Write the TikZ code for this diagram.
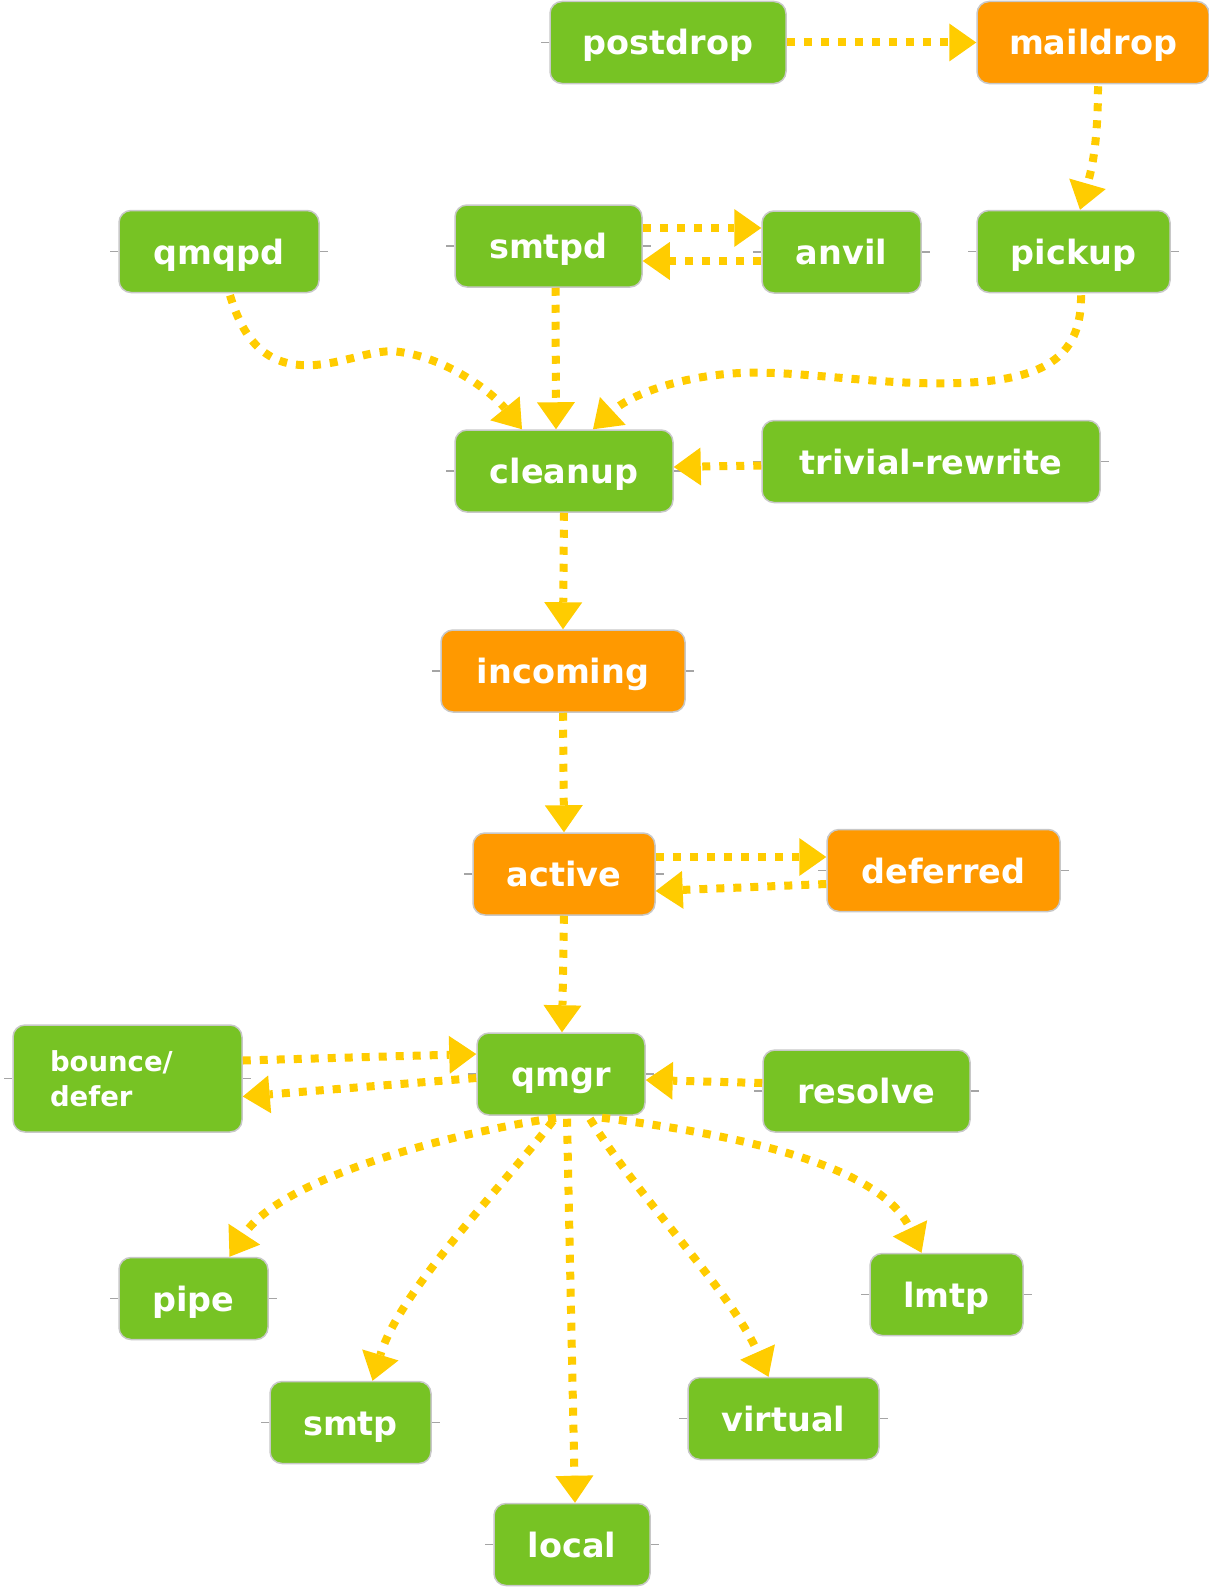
\documentclass[tikz,border=0pt]{standalone}
\usepackage{fontspec}
\setmainfont{DejaVu Sans}
\usetikzlibrary{arrows.meta,calc}
\definecolor{boxgreen}{RGB}{119,195,36}
\definecolor{boxorange}{RGB}{255,153,0}
\definecolor{flowyellow}{RGB}{255,204,0}
\definecolor{tickgray}{RGB}{165,165,165}
\definecolor{edgegray}{RGB}{200,200,200}
\begin{document}
\begin{tikzpicture}[x=1pt,y=-1pt,
  box/.style={rounded corners=12pt, draw=edgegray, line width=1.5pt, text=white,
    inner sep=0pt, minimum height=82pt},
  oneline/.style={font=\bfseries\fontsize{33.5}{40}\selectfont, text height=25pt, text depth=0pt},
  gbox/.style={box, oneline, fill=boxgreen},
  obox/.style={box, oneline, fill=boxorange},
  flow/.style={draw=flowyellow, line width=8pt, dash pattern=on 8pt off 9pt,
    -{Triangle[length=27pt,width=38pt,line width=0pt]}},
  tickline/.style={draw=tickgray, line width=1.2pt}]
\fill[white] (0,0) rectangle (1209,1587);
\useasboundingbox (0,0) rectangle (1209,1587);

% nodes
\node[gbox, minimum width=236pt] (postdrop) at (668,42.5) {postdrop};
\node[obox, minimum width=232pt] (maildrop) at (1093,42.5) {maildrop};
\node[gbox, minimum width=200pt] (qmqpd) at (219,251.5) {qmqpd};
\node[gbox, minimum width=187pt] (smtpd) at (548.5,246) {smtpd};
\node[gbox, minimum width=159pt] (anvil) at (841.5,252) {anvil};
\node[gbox, minimum width=193pt] (pickup) at (1073.5,251.5) {pickup};
\node[gbox, minimum width=218pt] (cleanup) at (564,471) {cleanup};
\node[gbox, minimum width=338pt] (trivial) at (931,461.5) {trivial-rewrite};
\node[obox, minimum width=244pt] (incoming) at (563,671) {incoming};
\node[obox, minimum width=182pt] (active) at (564,874) {active};
\node[obox, minimum width=233pt] (deferred) at (943.5,870.5) {deferred};
\node[box, fill=boxgreen, minimum width=229pt, minimum height=107pt,
  text width=155pt, align=left, font=\bfseries\fontsize{27.5}{35}\selectfont]
  (bounce) at (127.5,1078.5) {bounce/\\defer};
\node[gbox, minimum width=168pt] (qmgr) at (561,1074) {qmgr};
\node[gbox, minimum width=207pt] (resolve) at (866.5,1091) {resolve};
\node[gbox, minimum width=149pt] (pipe) at (193.5,1298.5) {pipe};
\node[gbox, minimum width=153pt] (lmtp) at (946.5,1294.5) {lmtp};
\node[gbox, minimum width=161pt] (smtp) at (350.5,1422.5) {smtp};
\node[gbox, minimum width=191pt] (virtual) at (783.5,1418.5) {virtual};
\node[gbox, minimum width=156pt] (local) at (572,1544.5) {local};

% side ticks
\foreach \n in {postdrop,maildrop,qmqpd,smtpd,anvil,pickup,cleanup,trivial,incoming,active,deferred,bounce,qmgr,resolve,pipe,lmtp,smtp,virtual,local}
  \draw[tickline] (\n.west) -- ++(-8,0) (\n.east) -- ++(8,0);

% connectors
\draw[flow] (postdrop.east) -- (maildrop.west);
\draw[flow] ($(maildrop.south)+(5,2)$) .. controls (1098,150) and (1090,175) .. ($(pickup.north)+(6.5,0)$);
\draw[flow] ($(smtpd.east)+(0,-18)$) -- ($(anvil.west)+(0,-24)$);
\draw[flow] ($(anvil.west)+(0,9)$) -- ($(smtpd.east)+(0,15)$);
\draw[flow] ($(smtpd.south)+(7,0)$) -- ($(cleanup.north)+(-8,0)$);
\draw[flow] ($(qmqpd.south)+(11,2)$) .. controls (245,345) and (270,368) .. (315,365)
  .. controls (350,362) and (375,348) .. (400,352)
  .. controls (445,358) and (490,390) .. ($(cleanup.north)+(-42,0)$);
\draw[flow] ($(pickup.south)+(7.5,2)$) .. controls (1082,360) and (1040,380) .. (960,383)
  .. controls (880,386) and (800,370) .. (740,373)
  .. controls (680,376) and (630,395) .. ($(cleanup.north)+(29,0)$);
\draw[flow] ($(trivial.west)+(0,4)$) -- ($(cleanup.east)+(0,-4)$);
\draw[flow] (cleanup.south) -- (incoming.north);
\draw[flow] (incoming.south) -- (active.north);
\draw[flow] ($(active.east)+(0,-17)$) -- ($(deferred.west)+(0,-13.5)$);
\draw[flow] ($(deferred.west)+(0,13.5)$) -- ($(active.east)+(0,17)$);
\draw[flow] (active.south) -- ($(qmgr.north)+(1,0)$);
\draw[flow] ($(bounce.east)+(0,-18)$) -- ($(qmgr.west)+(0,-20)$);
\draw[flow] ($(qmgr.west)+(0,4)$) -- ($(bounce.east)+(0,18)$);
\draw[flow] ($(resolve.west)+(0,-8)$) -- ($(qmgr.east)+(0,6)$);
\draw[flow] ($(qmgr.south)+(-5,2)$) .. controls (440,1135) and (280,1180) .. ($(pipe.north)+(36,0)$);
\draw[flow] ($(qmgr.south)+(-8,5)$) .. controls (500,1190) and (400,1290) .. ($(smtp.north)+(22,0)$);
\draw[flow] ($(qmgr.south)+(6,3)$) -- ($(local.north)+(3,0)$);
\draw[flow] ($(qmgr.south)+(29,3)$) .. controls (640,1200) and (730,1290) .. ($(virtual.north)+(-15,0)$);
\draw[flow] ($(qmgr.south)+(41,2)$) .. controls (740,1135) and (880,1165) .. ($(lmtp.north)+(-25,0)$);
\end{tikzpicture}
\end{document}
